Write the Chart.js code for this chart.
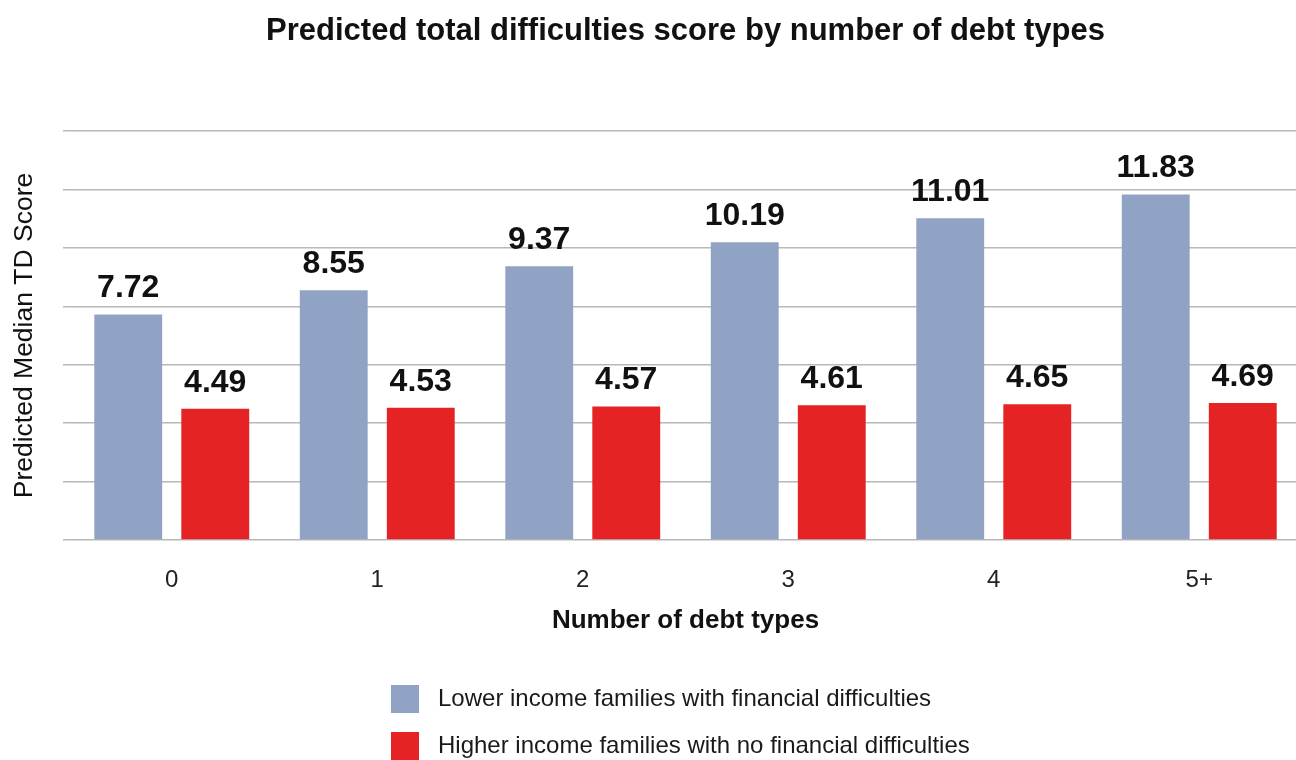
<!DOCTYPE html>
<html>
<head>
<meta charset="utf-8">
<title>Predicted total difficulties score by number of debt types</title>
<script src="https://cdn.jsdelivr.net/npm/chart.js@4/dist/chart.umd.min.js"></script>
<style>
    html, body { margin: 0; padding: 0; background: #fff; overflow: hidden; }
    #wrap { position: relative; width: 1302px; height: 760px; }
</style>
</head>
<body>
<div id="wrap"><canvas id="tdChart"></canvas></div>
<script>
// chart data
const debtTypes = ['0', '1', '2', '3', '4', '5+'];
const lowerIncomeScores = [7.72, 8.55, 9.37, 10.19, 11.01, 11.83];
const higherIncomeScores = [4.49, 4.53, 4.57, 4.61, 4.65, 4.69];
const seriesNames = [
    'Lower income families with financial difficulties',
    'Higher income families with no financial difficulties'
];
const yTicks = [0, 2, 4, 6, 8, 10, 12, 14];

const BLUE = '#91a3c4';
const RED = '#e52324';
const GRID = '#b8b8b8';
const FONT = '"Liberation Sans", Arial, sans-serif';

/**
 * Draws the numbers above each bar.
 */
const valueLabels = {
    id: 'valueLabels',
    afterDatasetsDraw(chart) {
        const { ctx } = chart;
        ctx.save();
        ctx.font = 'bold 32px ' + FONT;
        ctx.fillStyle = '#111';
        ctx.textAlign = 'center';
        ctx.textBaseline = 'alphabetic';
        chart.data.datasets.forEach((ds, i) => {
            chart.getDatasetMeta(i).data.forEach((bar, j) => {
                ctx.fillText(ds.data[j].toFixed(2), bar.x, bar.y - 17);
            });
        });
        ctx.restore();
    }
};

/**
 * Stacked legend under the axis title.
 */
const stackedLegend = {
    id: 'stackedLegend',
    afterDraw(chart) {
        const { ctx } = chart;
        const left = 391;
        const rows = [699, 746];
        ctx.save();
        ctx.font = '24px ' + FONT;
        ctx.textBaseline = 'middle';
        ctx.textAlign = 'left';
        chart.data.datasets.forEach((ds, i) => {
            const cy = rows[i];
            ctx.fillStyle = ds.backgroundColor;
            ctx.fillRect(left, cy - 14, 28, 28);
            ctx.fillStyle = '#1a1a1a';
            ctx.fillText(ds.label, left + 47, cy);
        });
        ctx.restore();
    }
};

function createScoreChart() {
    const ctx = document.getElementById('tdChart')?.getContext('2d');
    if (!ctx) return;

    new Chart(ctx, {
        type: 'bar',
        data: {
            labels: debtTypes,
            datasets: [{
                label: seriesNames[0],
                data: lowerIncomeScores,
                backgroundColor: BLUE
            }, {
                label: seriesNames[1],
                data: higherIncomeScores,
                backgroundColor: RED
            }]
        },
        options: {
            responsive: true,
            maintainAspectRatio: false,
            animation: false,
            categoryPercentage: 0.847,
            barPercentage: 0.78,
            layout: { padding: { left: 0, right: 0, top: 0, bottom: 121 } },
            plugins: {
                legend: { display: false },
                tooltip: { enabled: false },
                title: {
                    display: true,
                    fullSize: false,
                    text: 'Predicted total difficulties score by number of debt types',
                    color: '#111',
                    font: { family: FONT, size: 31, weight: 'bold' },
                    padding: { top: 12.5, bottom: 81.3 }
                }
            },
            scales: {
                x: {
                    // tick marks are not drawn (grid off) but tickLength still spaces the labels
                    grid: { display: false, drawTicks: true, tickLength: 20 },
                    border: { display: false },
                    ticks: {
                        color: '#222',
                        padding: 6,
                        font: { family: FONT, size: 24 }
                    },
                    title: {
                        display: true,
                        text: 'Number of debt types',
                        color: '#111',
                        font: { family: FONT, size: 26, weight: 'bold' },
                        padding: { top: 4.6, bottom: 2.4 }
                    }
                },
                y: {
                    min: yTicks[0],
                    max: yTicks[yTicks.length - 1],
                    afterBuildTicks(scale) {
                        scale.ticks = yTicks.map(v => ({ value: v }));
                    },
                    border: { display: false },
                    grid: {
                        color: GRID,
                        lineWidth: 1.5,
                        drawTicks: true,
                        tickLength: 6
                    },
                    ticks: { display: false },
                    title: {
                        display: true,
                        text: 'Predicted Median TD Score',
                        color: '#111',
                        font: { family: FONT, size: 26.5 },
                        padding: { top: 8.6, bottom: 22.6 }
                    }
                }
            }
        },
        plugins: [valueLabels, stackedLegend]
    });
}

createScoreChart();
</script>
</body>
</html>
